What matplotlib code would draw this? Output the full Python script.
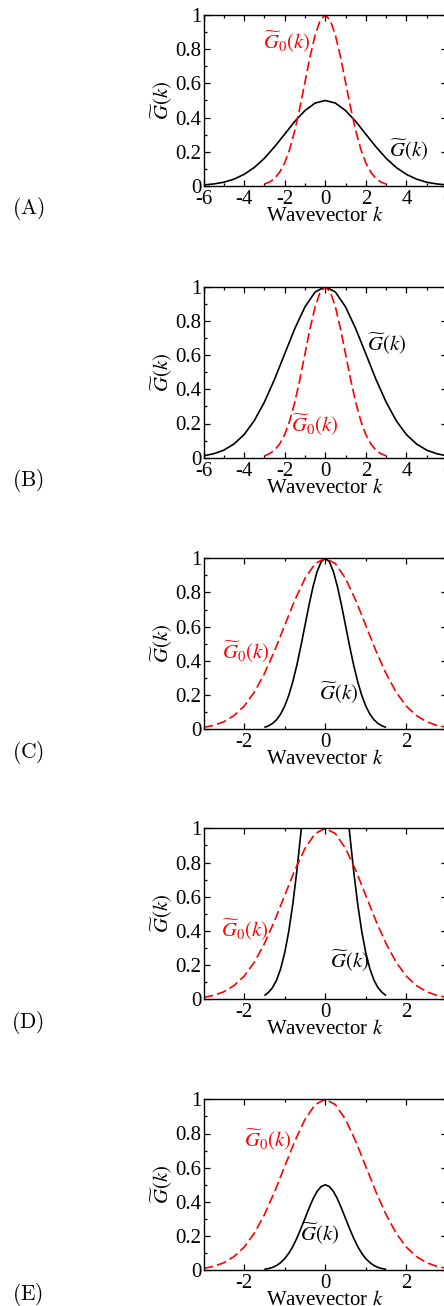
import numpy as np
import matplotlib
matplotlib.use("Agg")
import matplotlib.pyplot as plt
from matplotlib.ticker import MultipleLocator, FixedLocator

plt.rcParams['font.family'] = ['Liberation Serif', 'DejaVu Serif']
plt.rcParams['mathtext.fontset'] = 'stix'
plt.rcParams['axes.unicode_minus'] = False
plt.rcParams['lines.scale_dashes'] = False

# ---------------- data (half curves k >= 0) ----------------
panel_names = ["(A)", "(B)", "(C)", "(D)", "(E)"]

# reference G0(k), red dashed, same in all panels
k_g0 = [0.0, 0.25, 0.5, 0.75, 1.0, 1.25, 1.5, 1.75, 2.0, 2.25, 2.5, 2.75, 3.0]
g0_half = [1.000, 0.969, 0.882, 0.755, 0.607, 0.458, 0.325, 0.216, 0.135, 0.080, 0.044, 0.023, 0.011]

# wide G(k) for panels A and B
k_wide = [0.0, 0.5, 1.0, 1.5, 2.0, 2.5, 3.0, 3.5, 4.0, 4.5, 5.0, 5.5, 6.0]
gA_half = [0.500, 0.485, 0.441, 0.378, 0.303, 0.229, 0.162, 0.108, 0.068, 0.040, 0.022, 0.012, 0.006]
gB_half = [1.000, 0.969, 0.882, 0.755, 0.607, 0.458, 0.325, 0.216, 0.135, 0.080, 0.044, 0.023, 0.011]

# narrow G(k) for panels C, D and E
k_narrow = [0.0, 0.1, 0.2, 0.3, 0.4, 0.5, 0.6, 0.7, 0.8, 0.9, 1.0, 1.1, 1.2, 1.3, 1.4, 1.5]
gC_half = [1.000, 0.980, 0.923, 0.835, 0.726, 0.607, 0.487, 0.375, 0.278, 0.198, 0.135,
           0.089, 0.056, 0.034, 0.020, 0.011]
gD_half = [2.000, 1.960, 1.846, 1.670, 1.452, 1.213, 0.974, 0.750, 0.556, 0.396, 0.271,
           0.178, 0.112, 0.068, 0.040, 0.022]
gE_half = [0.500, 0.490, 0.462, 0.418, 0.363, 0.303, 0.244, 0.188, 0.139, 0.099, 0.068,
           0.045, 0.028, 0.017, 0.010, 0.006]

x_limits = [(-6, 6), (-6, 6), (-3, 3), (-3, 3), (-3, 3)]
x_major = [[-6, -4, -2, 0, 2, 4, 6]] * 2 + [[-2, 0, 2]] * 3
x_minor = [[-5, -3, -1, 1, 3, 5]] * 2 + [[-1, 1]] * 3
y_ticks = [0, 0.2, 0.4, 0.6, 0.8, 1.0]
y_ticklabels = ["0", "0.2", "0.4", "0.6", "0.8", "1"]

# label positions (data coords) for G0 and G labels
g0_label_pos = [(-1.9, 0.84), (-0.5, 0.19), (-1.95, 0.45), (-1.97, 0.405), (-1.42, 0.76)]
g_label_pos = [(4.1, 0.21), (3.0, 0.66), (0.34, 0.21), (0.59, 0.22), (-0.15, 0.21)]


def mirror(k, v):
    k = np.asarray(k)
    v = np.asarray(v)
    return np.concatenate([-k[:0:-1], k]), np.concatenate([v[:0:-1], v])


g_curves = [(k_wide, gA_half), (k_wide, gB_half), (k_narrow, gC_half),
            (k_narrow, gD_half), (k_narrow, gE_half)]

# ---------------- figure ----------------
W, H = 444, 1306
fig = plt.figure(figsize=(W / 100, H / 100), dpi=100)

tops_px = [15, 286.7, 558.3, 828.3, 1099.3]
ax_h_px = 171
left_px = 203.5
ax_w_px = 243.5
label_y_px = [209, 481, 752, 1023, 1294]

FS = 15

for i in range(5):
    bottom = 1 - (tops_px[i] + ax_h_px) / H
    ax = fig.add_axes([left_px / W, bottom, ax_w_px / W, ax_h_px / H])

    kx, gy = mirror(*g_curves[i])
    k0, g0 = mirror(k_g0, g0_half)

    ax.plot(kx, gy, color='black', lw=1.2, solid_capstyle='butt')
    ax.plot(k0, g0, color='#ff0000', lw=1.2, linestyle=(0, (7.0, 3.0)))

    ax.set_xlim(*x_limits[i])
    ax.set_ylim(0, 1)

    ax.xaxis.set_major_locator(FixedLocator(x_major[i]))
    ax.xaxis.set_minor_locator(FixedLocator(x_minor[i]))
    ax.set_yticks(y_ticks)
    ax.set_yticklabels(y_ticklabels)
    ax.yaxis.set_minor_locator(MultipleLocator(0.1))

    ax.tick_params(which='both', direction='in', top=True, right=True,
                   labelsize=FS, width=0.9)
    ax.tick_params(which='major', length=4.5)
    ax.tick_params(which='minor', length=2.3)
    ax.tick_params(axis='y', which='major', pad=1.5)
    ax.tick_params(axis='x', which='major', pad=3.0)
    for s in ax.spines.values():
        s.set_linewidth(1.0)

    ax.set_xlabel('Wavevector $k$', fontsize=FS, labelpad=-1.5)
    ax.set_ylabel(r'$\widetilde{G}(k)$', fontsize=FS, labelpad=0)

    ax.text(*g0_label_pos[i], r'$\widetilde{G}_0(k)$', color='#ff0000', fontsize=FS,
            ha='center', va='center')
    ax.text(*g_label_pos[i], r'$\widetilde{G}(k)$', color='black', fontsize=FS,
            ha='center', va='center')

    fig.text(28 / W, 1 - label_y_px[i] / H, r'$\mathrm{' + panel_names[i] + '}$',
             fontsize=15.5, ha='center', va='center', math_fontfamily='cm')

fig.savefig('out.png', dpi=100)
